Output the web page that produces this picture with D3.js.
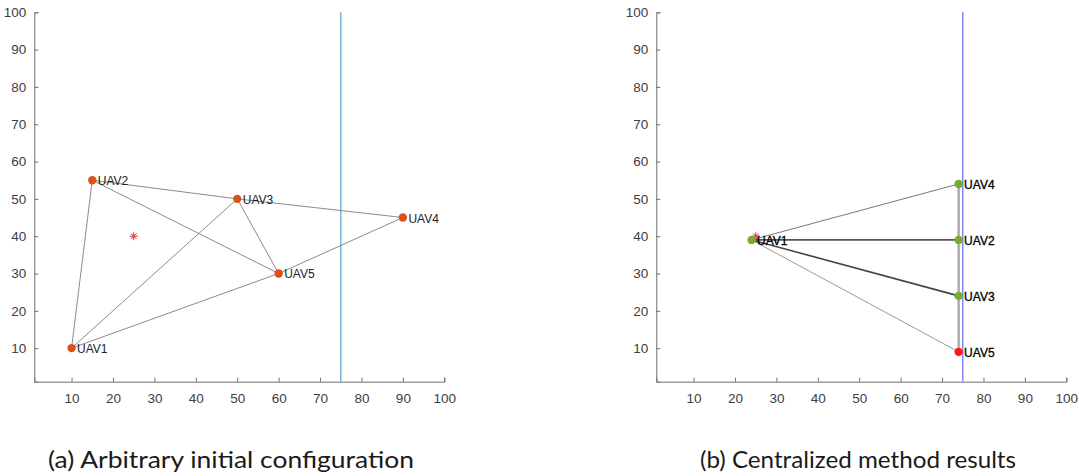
<!DOCTYPE html>
<html>
<head>
<meta charset="utf-8">
<script src="https://cdn.jsdelivr.net/npm/d3@7"></script>
<style>
  html, body { margin: 0; padding: 0; background: #fff; }
  svg { display: block; }
  .tick text { font-family: "Liberation Sans", Arial, sans-serif; font-size: 13.5px; fill: #404040; }
  .domain, .tick line { stroke: #707070; }
</style>
</head>
<body>
<svg id="chart" width="1079" height="476"></svg>
<script>
// Axis ticks shared by both panels
const xTicks = [10, 20, 30, 40, 50, 60, 70, 80, 90, 100];
const yTicks = [10, 20, 30, 40, 50, 60, 70, 80, 90, 100];
const boundaryX = 75;

// Panel (a): arbitrary initial configuration
const initNames = ["UAV1", "UAV2", "UAV3", "UAV4", "UAV5"];
const initX = [10, 15, 50, 90, 60];
const initY = [10, 55, 50, 45, 30];
const initEdges = [["UAV1", "UAV2"], ["UAV1", "UAV3"], ["UAV1", "UAV5"], ["UAV2", "UAV3"],
                   ["UAV2", "UAV5"], ["UAV3", "UAV4"], ["UAV3", "UAV5"], ["UAV5", "UAV4"]];
const initTarget = [25, 40];

// Panel (b): centralized method results
const finalNames = ["UAV1", "UAV2", "UAV3", "UAV4", "UAV5"];
const finalX = [24, 74, 74, 74, 74];
const finalY = [39, 39, 24, 54, 9];
const finalEdges = [["UAV1", "UAV4"], ["UAV1", "UAV2"], ["UAV1", "UAV3"], ["UAV1", "UAV5"],
                    ["UAV4", "UAV2"], ["UAV2", "UAV3"], ["UAV3", "UAV5"]];
const finalEdgeColor = ["#777", "#555", "#444", "#9a9a9a", "#a8a8a8", "#a8a8a8", "#a8a8a8"];
const finalEdgeWidth = [1, 1.6, 1.6, 1, 2.4, 2.4, 2.4];
const finalColors = ["#77ac30", "#77ac30", "#77ac30", "#77ac30", "#ff1a1a"];
const finalTarget = [25, 40];

const svg = d3.select("#chart");

function panel(opts) {
  const x = d3.scaleLinear().domain([1, 100]).range([opts.left, opts.left + 410]);
  const y = d3.scaleLinear().domain([1, 100]).range([381.7, 12.3]);
  const g = svg.append("g");

  g.append("g").attr("transform", "translate(0,381.7)")
    .call(d3.axisBottom(x).tickValues(xTicks).tickSizeInner(-4).tickSizeOuter(-4).tickPadding(9))
    .call(a => a.selectAll(".tick text").attr("dy", "0.9em"));
  g.append("g").attr("transform", `translate(${opts.left},0)`)
    .call(d3.axisLeft(y).tickValues(yTicks).tickSizeInner(-4).tickSizeOuter(-4).tickPadding(8));

  // vertical boundary
  g.append("line")
    .attr("x1", x(boundaryX)).attr("x2", x(boundaryX))
    .attr("y1", y(100)).attr("y2", y(1))
    .attr("stroke", opts.lineColor).attr("stroke-width", 1.6);

  const pos = {};
  opts.names.forEach((n, i) => pos[n] = [opts.xs[i], opts.ys[i]]);

  g.selectAll("line.edge").data(opts.edges).enter().append("line")
    .attr("class", "edge")
    .attr("x1", d => x(pos[d[0]][0])).attr("y1", d => y(pos[d[0]][1]))
    .attr("x2", d => x(pos[d[1]][0])).attr("y2", d => y(pos[d[1]][1]))
    .attr("stroke", (d, i) => opts.edgeColor ? opts.edgeColor[i] : "#8c8c8c")
    .attr("stroke-width", (d, i) => opts.edgeWidth ? opts.edgeWidth[i] : 1);

  // target marker (asterisk)
  const tg = g.append("g")
    .attr("transform", `translate(${x(opts.target[0])},${y(opts.target[1])})`)
    .attr("stroke", "#ff2020").attr("stroke-width", 1);
  [0, 45, 90, 135].forEach(a => {
    const r = 4, t = a * Math.PI / 180;
    tg.append("line").attr("x1", -r * Math.cos(t)).attr("y1", -r * Math.sin(t))
      .attr("x2", r * Math.cos(t)).attr("y2", r * Math.sin(t));
  });

  g.selectAll("circle.uav").data(opts.names).enter().append("circle")
    .attr("class", "uav")
    .attr("cx", (d, i) => x(opts.xs[i])).attr("cy", (d, i) => y(opts.ys[i]))
    .attr("r", 4.2)
    .attr("fill", (d, i) => opts.colors[i]);

  g.selectAll("text.lbl").data(opts.names).enter().append("text")
    .attr("class", "lbl")
    .attr("x", (d, i) => x(opts.xs[i]) + 5.5)
    .attr("y", (d, i) => y(opts.ys[i]) + 5)
    .attr("font-family", "Liberation Sans, Arial, sans-serif")
    .attr("font-size", 12)
    .attr("fill", opts.labelColor)
    .attr("stroke", opts.labelStroke || "none")
    .attr("stroke-width", 0.3)
    .text(d => d);

  svg.append("text")
    .attr("x", opts.capX).attr("y", 468)
    .attr("font-family", "Lato, 'Open Sans', sans-serif")
    .attr("font-size", 23)
    .attr("fill", "#1a1a1a")
    .attr("textLength", opts.capW).attr("lengthAdjust", "spacingAndGlyphs")
    .text(opts.caption);
}

panel({
  left: 34.3, names: initNames, xs: initX, ys: initY, edges: initEdges,
  colors: initNames.map(() => "#d95319"), target: initTarget,
  lineColor: "#7fb6dc", labelColor: "#222",
  caption: "(a) Arbitrary initial configuration", capX: 48, capW: 366
});

panel({
  left: 656.3, names: finalNames, xs: finalX, ys: finalY, edges: finalEdges,
  edgeColor: finalEdgeColor, edgeWidth: finalEdgeWidth,
  colors: finalColors, target: finalTarget,
  lineColor: "#8a8af5", labelColor: "#000", labelStroke: "#000",
  caption: "(b) Centralized method results", capX: 700, capW: 316
});
</script>
</body>
</html>
